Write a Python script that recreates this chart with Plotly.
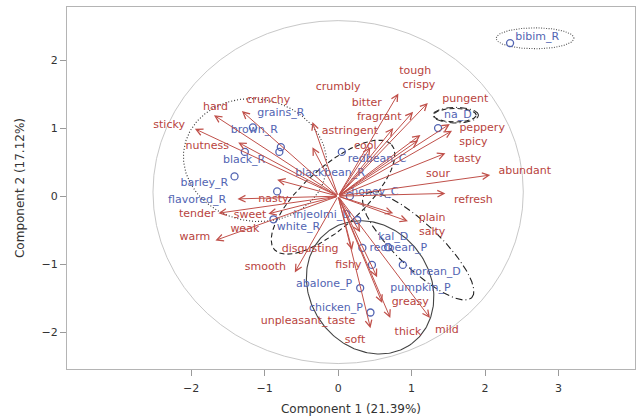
import numpy as np
import plotly.graph_objects as go

# ---------------- data ----------------
# sensory attributes (red arrows)
attr_names = ["hard", "crunchy", "sticky", "nutness", "nasty", "sweet", "tender", "warm", "weak",
              "smooth", "crumbly", "astringent", "cool", "bitter", "fragrant", "tough", "crispy",
              "pungent", "peppery", "spicy", "tasty", "sour", "abundant", "refresh", "plain",
              "salty", "disgusting", "fishy", "unpleasant_taste", "greasy", "thick", "mild", "soft"]
arrow_x = [-1.69, -1.31, -1.95, -1.36, -0.83, -1.37, -1.63, -1.67, -0.95,
           -0.59, -0.35, -0.35, 0.44, 1.02, 0.75, 0.82, 1.22,
           1.52, 1.55, 1.12, 1.46, 1.09, 2.07, 1.46, 0.95,
           0.75, 0.30, 0.19, 0.53, 0.60, 0.71, 1.25, 0.44]
arrow_y = [1.19, 1.25, 0.99, 0.79, 0.24, -0.04, -0.25, -0.65, -0.26,
           -1.12, 1.09, 0.72, 0.72, 1.24, 1.00, 1.51, 1.37,
           1.06, 0.96, 0.90, 0.63, 0.82, 0.31, 0.04, -0.37,
           -0.25, -0.53, -0.79, -1.19, -1.57, -1.79, -1.79, -1.94]
attr_label_x = [-1.67, -0.95, -2.30, -1.78, -0.88, -1.20, -1.92, -1.95, -1.27,
                -0.99, 0.00, 0.16, 0.37, 0.39, 0.56, 1.05, 1.10,
                1.73, 1.96, 1.84, 1.76, 1.36, 2.54, 1.84, 1.28,
                1.28, -0.38, 0.14, -0.41, 0.98, 0.95, 1.48, 0.23]
attr_label_y = [1.31, 1.41, 1.04, 0.74, -0.04, -0.28, -0.26, -0.60, -0.49,
                -1.04, 1.60, 0.96, 0.74, 1.37, 1.16, 1.84, 1.63,
                1.43, 1.00, 0.79, 0.54, 0.32, 0.37, -0.06, -0.32,
                -0.53, -0.78, -1.01, -1.84, -1.56, -2.00, -1.97, -2.12]

# products (blue points)
obj_names = ["bibim_R", "na_D", "grains_R", "brown_R", "black_R", "barley_R", "flavored_R",
             "blackbean_R", "redbean_C", "honey_C", "injeolmi_D", "white_R", "kal_D",
             "redbean_P", "korean_D", "pumpkin_P", "abalone_P", "chicken_P"]
obj_x = [2.34, 1.36, -0.78, -1.16, -1.27, -1.41, -0.83,
         -0.80, 0.05, 0.16, 0.26, -0.88, 0.68,
         0.33, 0.88, 0.46, 0.30, 0.44]
obj_y = [2.25, 1.00, 0.72, 1.01, 0.65, 0.29, 0.07,
         0.65, 0.65, 0.00, -0.35, -0.34, -0.75,
         -0.76, -1.01, -1.01, -1.35, -1.71]
obj_label_x = [2.71, 1.63, -0.78, -1.14, -1.28, -1.82, -1.92,
               -0.11, 0.53, 0.50, -0.22, -0.54, 0.75,
               0.82, 1.32, 1.12, -0.19, -0.03]
obj_label_y = [2.34, 1.19, 1.22, 0.97, 0.53, 0.19, -0.06,
               0.34, 0.54, 0.06, -0.28, -0.46, -0.60,
               -0.76, -1.12, -1.35, -1.29, -1.65]

# group ellipses: center, first semi-axis vector, second semi-axis vector, style
ell_names = ["R", "C", "D", "P", "bibim", "na1", "na2"]
ell_cx = [-1.13, -0.07, 1.09, 0.435, 2.68, 1.59, 1.60]
ell_cy = [0.53, -0.015, -0.735, -1.34, 2.32, 1.19, 1.19]
ell_ax = [0.965, 0.796, 0.728, 0.571, 0.53, 0.29, 0.31]
ell_ay = [-0.184, 0.772, -0.757, -0.824, 0.0, 0.0, 0.0]
ell_bx = [-0.144, 0.272, 0.208, 0.653, 0.0, 0.0, 0.0]
ell_by = [-0.884, -0.328, 0.233, 0.529, 0.154, 0.10, 0.115]
ell_dash = ["1px,2px", "5px,3px", "7px,3px,1px,3px", "solid", "1px,1.5px", "5px,3px", "7px,3px,1px,3px"]
ell_color = ["#333333", "#222222", "#222222", "#444444", "#555555", "#222222", "#333333"]

circle_r = 2.52
circle_cy = 0.06

x_ticks = [-2, -1, 0, 1, 2, 3]
y_ticks = [-2, -1, 0, 1, 2]
x_title = "Component 1 (21.39%)"
y_title = "Component 2 (17.12%)"

# ---------------- styles ----------------
RED_ARROW = "#c0504a"
RED_TEXT = "#b8433d"
BLUE = "#5264b2"
FONT = "DejaVu Sans"

fig = go.Figure()

# big correlation circle
fig.add_shape(type="circle", xref="x", yref="y",
              x0=-circle_r, x1=circle_r, y0=circle_cy - circle_r, y1=circle_cy + circle_r,
              line=dict(color="#c8c8c8", width=1), layer="below")

# ellipses
t = np.linspace(0, 2 * np.pi, 240)
for i in range(len(ell_names)):
    ex = ell_cx[i] + ell_ax[i] * np.cos(t) + ell_bx[i] * np.sin(t)
    ey = ell_cy[i] + ell_ay[i] * np.cos(t) + ell_by[i] * np.sin(t)
    fig.add_trace(go.Scatter(x=ex, y=ey, mode="lines",
                             line=dict(color=ell_color[i], width=1.1, dash=ell_dash[i]),
                             hoverinfo="skip", showlegend=False))

# product points
fig.add_trace(go.Scatter(x=obj_x, y=obj_y, mode="markers",
                         marker=dict(symbol="circle-open", size=7, color=BLUE, line=dict(width=1.3)),
                         showlegend=False))
# product labels
fig.add_trace(go.Scatter(x=obj_label_x, y=obj_label_y, mode="text", text=obj_names,
                         textfont=dict(family=FONT, size=11, color=BLUE),
                         textposition="middle center", showlegend=False))
# attribute labels
fig.add_trace(go.Scatter(x=attr_label_x, y=attr_label_y, mode="text", text=attr_names,
                         textfont=dict(family=FONT, size=11, color=RED_TEXT),
                         textposition="middle center", showlegend=False))

# arrows
for xa, ya in zip(arrow_x, arrow_y):
    fig.add_annotation(x=xa, y=ya, ax=0, ay=0, xref="x", yref="y", axref="x", ayref="y",
                       text="", showarrow=True, arrowhead=5, arrowsize=1.3,
                       arrowwidth=1.0, arrowcolor=RED_ARROW)

axis_common = dict(showgrid=False, zeroline=False, showline=True, mirror=True, automargin=False,
                   linecolor="#b4b4b4", linewidth=1, ticks="outside", ticklen=6,
                   tickcolor="#9a9a9a", tickfont=dict(family=FONT, size=11, color="#333333"))

fig.update_xaxes(range=[-3.69, 4.04], tickvals=x_ticks, ticktext=[str(v).replace("-", "\u2212") for v in x_ticks],
                 ticklabelstandoff=3,
                 title=dict(text=x_title, font=dict(family=FONT, size=12, color="#333333"), standoff=10),
                 **axis_common)
fig.update_yaxes(range=[-2.54, 2.78], tickvals=y_ticks, ticktext=[str(v).replace("-", "\u2212") for v in y_ticks],
                 title=dict(text=y_title, font=dict(family=FONT, size=12, color="#333333"), standoff=14),
                 **axis_common)

fig.update_layout(width=639, height=417, margin=dict(l=67, r=4, t=7, b=48),
                  plot_bgcolor="white", paper_bgcolor="white", showlegend=False)

fig.write_html("out.html", config={"displayModeBar": False},
               post_script="document.body.style.margin='0';document.body.style.overflow='hidden';")
